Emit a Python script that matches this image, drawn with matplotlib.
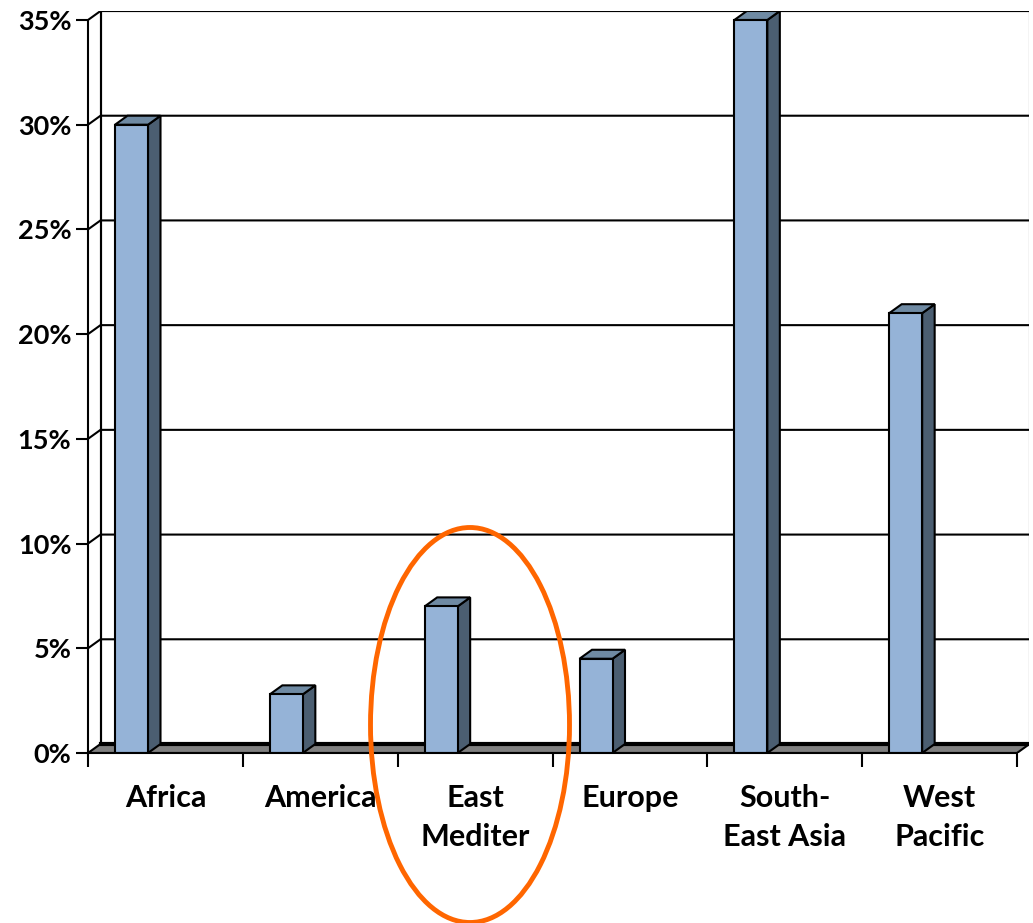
import numpy as np
import matplotlib
matplotlib.use("Agg")
import matplotlib.pyplot as plt
from matplotlib.patches import Polygon, Rectangle, Ellipse

# data
regions = ["Africa", "America", "East\nMediter", "Europe", "South-\nEast Asia", "West\nPacific"]
share = [30.0, 2.8, 7.0, 4.5, 35.0, 21.0]
yticks = [0, 5, 10, 15, 20, 25, 30, 35]
ytick_labels = ["0%", "5%", "10%", "15%", "20%", "25%", "30%", "35%"]

plt.rcParams['font.family'] = ['Lato', 'DejaVu Sans']

W, H = 1033, 923
fig = plt.figure(figsize=(W / 100, H / 100), dpi=100)

# plot area in pixels: front axis x=88, y(0)=753, y(35)=20
px_per_cat = (1017 - 88) / 6
px_per_pct = (753 - 20) / 35
xmax, ymax = 6.08, 35.45
left = 88 / W
bottom = (H - 753) / H
ax = fig.add_axes([left, bottom, xmax * px_per_cat / W, ymax * px_per_pct / H])
ax.set_xlim(0, xmax)
ax.set_ylim(0, ymax)

# 3d depth offset
dx = 12.5 / px_per_cat
dy = 9 / px_per_pct

n = len(regions)
lw = 1.5

# back wall + gridlines
ax.add_patch(Rectangle((dx, dy), n, 35, fc="white", ec="black", lw=lw, zorder=1))
for v in yticks[1:]:
    ax.plot([0, dx, n + dx], [v, v + dy, v + dy], color="black", lw=lw, zorder=1.5)
ax.plot([dx, dx], [dy, 35 + dy], color="black", lw=lw, zorder=1.5)

# floor
ax.add_patch(Polygon([(0, 0), (n, 0), (n + dx, dy), (dx, dy)], closed=True,
                     fc="#808080", ec="black", lw=lw, zorder=2))
ax.plot([dx, n + dx], [dy, dy], color="black", lw=3, zorder=2.1)

# bars
x0 = 27 / px_per_cat
bw = 33 / px_per_cat
xs = np.arange(n) + x0
ax.bar(xs, share, width=bw, align="edge", color="#95B3D7", edgecolor="black",
       linewidth=lw, zorder=4)
for x, v in zip(xs, share):
    r = x + bw
    ax.add_patch(Polygon([(r, 0), (r + dx, dy), (r + dx, v + dy), (r, v)], closed=True,
                         fc="#4B5E71", ec="black", lw=lw, zorder=3.5))
    ax.add_patch(Polygon([(x, v), (r, v), (r + dx, v + dy), (x + dx, v + dy)], closed=True,
                         fc="#6F8AA3", ec="black", lw=lw, zorder=3.5))

# axes
for s in ["top", "right"]:
    ax.spines[s].set_visible(False)
ax.spines["left"].set_bounds(0, 35)
ax.spines["bottom"].set_bounds(0, n)
ax.spines["left"].set_linewidth(lw)
ax.spines["bottom"].set_linewidth(lw)
ax.spines["left"].set_zorder(5)
ax.spines["bottom"].set_zorder(5)

ax.set_yticks(yticks)
ax.set_yticklabels(ytick_labels, fontsize=19.5, fontweight="bold")
ax.tick_params(axis="y", direction="out", length=9, width=lw, pad=3)

ax.set_xticks(np.arange(n + 1))
ax.set_xticklabels([])
ax.set_xticks(np.arange(n) + 0.5, minor=True)
ax.set_xticklabels(regions, minor=True, fontsize=22, fontweight="bold", linespacing=1.5)
ax.tick_params(axis="x", which="major", direction="out", length=10, width=lw)
ax.tick_params(axis="x", which="minor", length=0, pad=22)

# highlight ring around East Mediter
ax.add_patch(Ellipse(((470 - 88) / px_per_cat, (753 - 725) / px_per_pct),
                     199 / px_per_cat, 395 / px_per_pct, fill=False,
                     ec="#FF6600", lw=3.5, zorder=6, clip_on=False))

fig.savefig("out.png", dpi=100)
